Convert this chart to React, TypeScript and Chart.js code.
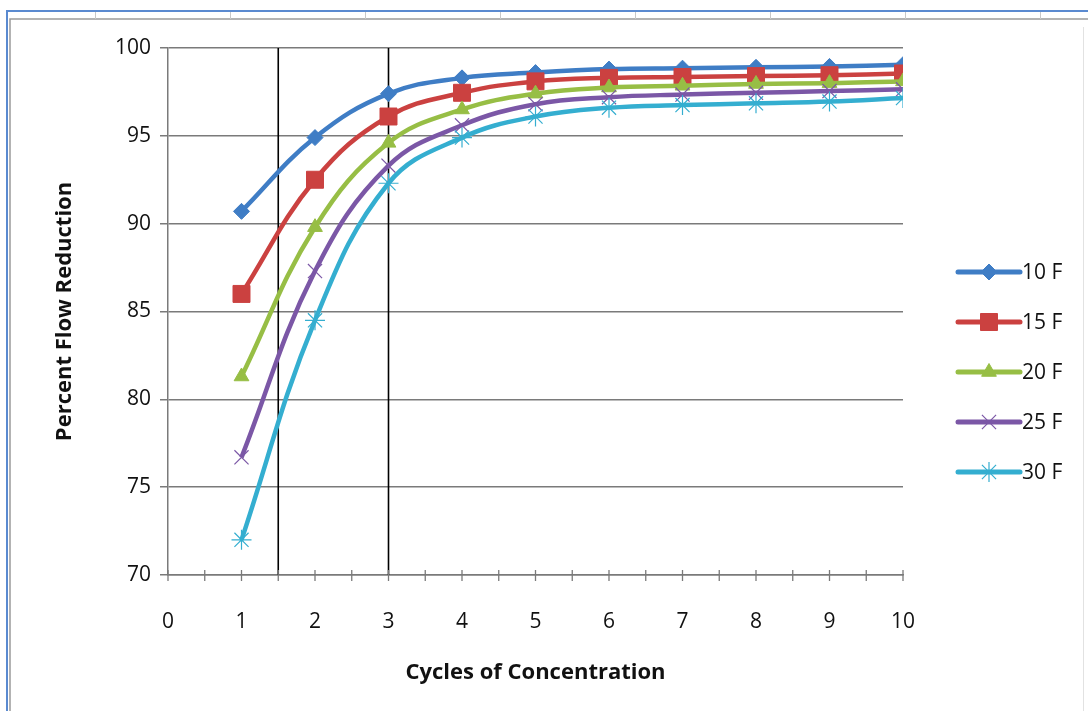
import React, { useEffect, useRef } from "react";
import { Chart, registerables } from "chart.js";

Chart.register(...registerables);

// Cycles of concentration (x values)
const cycles = [1, 2, 3, 4, 5, 6, 7, 8, 9, 10];

// Percent flow reduction per temperature difference
const seriesLabels = ["10 F", "15 F", "20 F", "25 F", "30 F"];
const reduction10F = [90.7, 94.9, 97.4, 98.3, 98.6, 98.8, 98.85, 98.9, 98.95, 99.05];
const reduction15F = [86.0, 92.5, 96.1, 97.45, 98.1, 98.3, 98.35, 98.4, 98.45, 98.55];
const reduction20F = [81.3, 89.8, 94.6, 96.5, 97.4, 97.75, 97.85, 97.95, 98.0, 98.1];
const reduction25F = [76.7, 87.3, 93.3, 95.6, 96.8, 97.2, 97.35, 97.45, 97.55, 97.65];
const reduction30F = [72.0, 84.5, 92.3, 94.9, 96.1, 96.6, 96.75, 96.85, 96.95, 97.15];

// Reference cycle lines
const referenceCycles = [1.5, 3];

const colors = ["#3F7DC5", "#CB4140", "#97BE45", "#7B57A6", "#34AED0"];
const pointStyles = ["rectRot", "rect", "triangle", "crossRot", "star"];
const pointRadii = [8, 12, 8.5, 10, 10];
const pointBorderWidths = [1, 1, 1, 1.2, 1.2];

const FONT = '"Open Sans", "Noto Sans", sans-serif';
const TEXT_COLOR = "#111111";

function drawMarker(ctx: CanvasRenderingContext2D, style: string, r: number, x: number, y: number) {
  ctx.beginPath();
  if (style === "rectRot") {
    ctx.moveTo(x, y - r);
    ctx.lineTo(x + r, y);
    ctx.lineTo(x, y + r);
    ctx.lineTo(x - r, y);
    ctx.closePath();
    ctx.fill();
    ctx.stroke();
  } else if (style === "rect") {
    const s = Math.SQRT1_2 * r;
    ctx.rect(x - s, y - s, 2 * s, 2 * s);
    ctx.fill();
    ctx.stroke();
  } else if (style === "triangle") {
    const h = r * 1.5;
    const side = (3 * r) / Math.sqrt(3);
    ctx.moveTo(x - side / 2, y + h / 3);
    ctx.lineTo(x + side / 2, y + h / 3);
    ctx.lineTo(x, y - (2 * h) / 3);
    ctx.closePath();
    ctx.fill();
    ctx.stroke();
  } else if (style === "crossRot") {
    const d = Math.SQRT1_2 * r;
    ctx.moveTo(x - d, y - d);
    ctx.lineTo(x + d, y + d);
    ctx.moveTo(x + d, y - d);
    ctx.lineTo(x - d, y + d);
    ctx.stroke();
  } else {
    const d = Math.SQRT1_2 * r;
    ctx.moveTo(x - d, y - d);
    ctx.lineTo(x + d, y + d);
    ctx.moveTo(x + d, y - d);
    ctx.lineTo(x - d, y + d);
    ctx.moveTo(x, y - r);
    ctx.lineTo(x, y + r);
    ctx.stroke();
  }
}

const frameAndExtras = {
  id: "frameAndExtras",
  beforeDraw(chart: any) {
    const { ctx, width, height } = chart;
    ctx.save();
    ctx.fillStyle = "#ffffff";
    ctx.fillRect(0, 0, width, height);
    // window border
    ctx.strokeStyle = "#5A8AD0";
    ctx.lineWidth = 2;
    ctx.beginPath();
    ctx.moveTo(7, height);
    ctx.lineTo(7, 11);
    ctx.lineTo(width, 11);
    ctx.stroke();
    ctx.strokeStyle = "#9A9A9A";
    ctx.lineWidth = 1.5;
    ctx.beginPath();
    ctx.moveTo(10, height);
    ctx.lineTo(10, 19);
    ctx.lineTo(width, 19);
    ctx.stroke();
    ctx.strokeStyle = "#C8C8C8";
    ctx.lineWidth = 1;
    for (let x = 95; x < width; x += 135) {
      ctx.beginPath();
      ctx.moveTo(x + 0.5, 12);
      ctx.lineTo(x + 0.5, 19);
      ctx.stroke();
    }
    ctx.strokeStyle = "#E2E2E2";
    ctx.beginPath();
    ctx.moveTo(1083.5, 27);
    ctx.lineTo(1083.5, height);
    ctx.stroke();
    ctx.restore();
  },
  beforeDatasetsDraw(chart: any) {
    const { ctx, chartArea, scales } = chart;
    ctx.save();
    ctx.strokeStyle = "#000000";
    ctx.lineWidth = 1.6;
    referenceCycles.forEach((v) => {
      const x = scales.x.getPixelForValue(v);
      ctx.beginPath();
      ctx.moveTo(x, chartArea.top);
      ctx.lineTo(x, chartArea.bottom);
      ctx.stroke();
    });
    // x axis tick marks crossing the axis
    const xs = scales.x;
    ctx.strokeStyle = "#7A7A7A";
    ctx.lineWidth = 1.3;
    xs.ticks.forEach((t: any) => {
      const x = xs.getPixelForValue(t.value);
      ctx.beginPath();
      ctx.moveTo(x, chartArea.bottom - 5);
      ctx.lineTo(x, chartArea.bottom + 6);
      ctx.stroke();
    });
    ctx.restore();
  },
  afterDraw(chart: any) {
    const { ctx } = chart;
    ctx.save();
    const lineStart = 958;
    const lineEnd = 1020;
    chart.data.datasets.forEach((ds: any, i: number) => {
      const y = 272 + i * 50;
      ctx.strokeStyle = ds.borderColor;
      ctx.lineWidth = 5;
      ctx.lineCap = "round";
      ctx.beginPath();
      ctx.moveTo(lineStart, y);
      ctx.lineTo(lineEnd, y);
      ctx.stroke();
      ctx.lineCap = "butt";
      ctx.fillStyle = ds.pointBackgroundColor;
      ctx.strokeStyle = ds.pointBorderColor;
      ctx.lineWidth = ds.pointBorderWidth;
      drawMarker(ctx, ds.pointStyle, ds.pointRadius, (lineStart + lineEnd) / 2, y);
      ctx.fillStyle = TEXT_COLOR;
      ctx.font = `21px ${FONT}`;
      ctx.textAlign = "left";
      ctx.textBaseline = "middle";
      ctx.fillText(ds.label, lineEnd + 2, y + 1);
    });
    ctx.restore();
  },
};

export default function App() {
  const canvasRef = useRef<HTMLCanvasElement | null>(null);

  useEffect(() => {
    const canvas = canvasRef.current;
    if (!canvas) return;
    const seriesValues = [reduction10F, reduction15F, reduction20F, reduction25F, reduction30F];
    const chart = new Chart(canvas, {
      type: "line",
      data: {
        datasets: seriesValues.map((vals, i) => ({
          label: seriesLabels[i],
          data: cycles.map((c, j) => ({ x: c, y: vals[j] })),
          borderColor: colors[i],
          backgroundColor: colors[i],
          pointBackgroundColor: colors[i],
          pointBorderColor: colors[i],
          pointBorderWidth: pointBorderWidths[i],
          pointStyle: pointStyles[i] as any,
          pointRadius: pointRadii[i],
          borderWidth: 4.5,
          tension: 0.4,
          fill: false,
          order: 5 - i,
        })),
      },
      options: {
        responsive: false,
        animation: false,
        devicePixelRatio: 1,
        layout: { padding: { left: 0, right: 185, top: 48, bottom: 0 } },
        plugins: {
          legend: { display: false },
          tooltip: { enabled: false },
        },
        scales: {
          x: {
            type: "linear",
            min: 0,
            max: 10,
            afterFit: (scale: any) => {
              scale.height = 136;
            },
            ticks: {
              stepSize: 0.5,
              autoSkip: false,
              maxRotation: 0,
              padding: 34,
              color: TEXT_COLOR,
              font: { family: FONT, size: 21 },
              callback: (v: any) => (Number.isInteger(v) ? String(v) : ""),
            },
            grid: { display: false, drawTicks: false },
            border: { display: true, color: "#7A7A7A", width: 1.5 },
            title: {
              display: true,
              text: "Cycles of Concentration",
              color: TEXT_COLOR,
              font: { family: FONT, size: 22, weight: "bold" },
              padding: { top: 0, bottom: 25 },
            },
          },
          y: {
            min: 70,
            max: 100,
            afterFit: (scale: any) => {
              scale.width = 168;
            },
            ticks: {
              stepSize: 5,
              padding: 9,
              color: TEXT_COLOR,
              font: { family: FONT, size: 21 },
            },
            grid: {
              color: "#7A7A7A",
              lineWidth: 1.5,
              tickLength: 8,
              tickColor: "#7A7A7A",
            },
            border: { display: true, color: "#7A7A7A", width: 1.5 },
            title: {
              display: true,
              text: "Percent Flow Reduction",
              color: TEXT_COLOR,
              font: { family: FONT, size: 22, weight: "bold" },
              padding: { top: 52, bottom: 0 },
            },
          },
        },
      },
      plugins: [frameAndExtras],
    });
    return () => chart.destroy();
  }, []);

  return (
    <div style={{ position: "fixed", left: 0, top: 0, width: 1088, height: 711, background: "#fff" }}>
      <canvas ref={canvasRef} width={1088} height={711} style={{ display: "block" }} />
    </div>
  );
}
